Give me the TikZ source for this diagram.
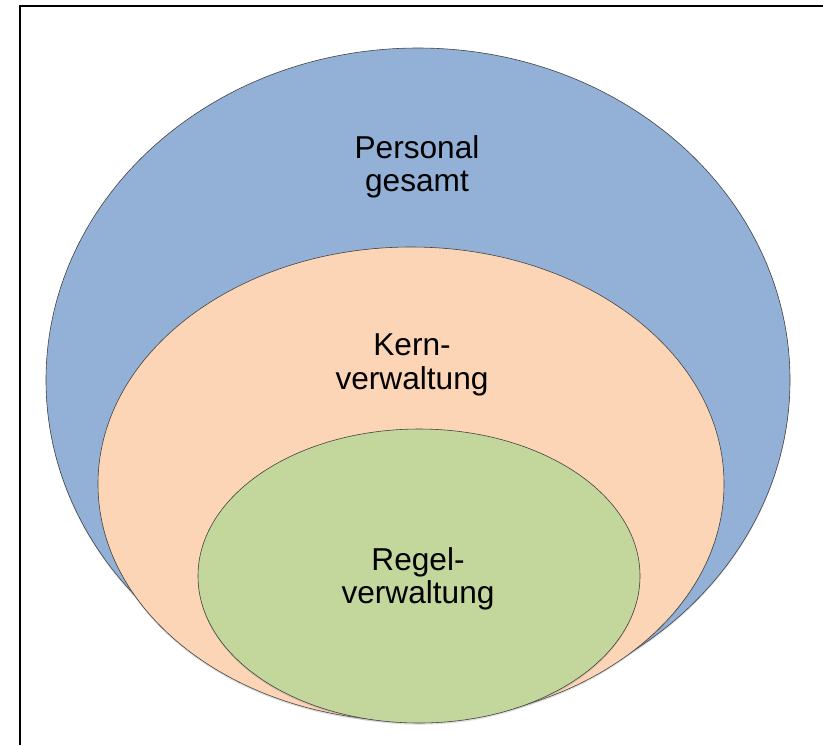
\documentclass[tikz,border=0pt]{standalone}
\usepackage{fontspec}
\setmainfont{Liberation Sans}
\usetikzlibrary{shadows}
\definecolor{outerblue}{RGB}{147,177,214}
\definecolor{midpeach}{RGB}{251,213,181}
\definecolor{innergreen}{RGB}{195,214,155}

\begin{document}
\begin{tikzpicture}[x=0.03cm,y=-0.03cm,
    ring/.style={draw=black!75,line width=0.5pt,
      drop shadow={opacity=0.25,shadow xshift=0pt,shadow yshift=-1.5pt}},
    lbl/.style={align=center,font=\fontsize{27}{28.5}\selectfont}]
          \useasboundingbox (0,0) rectangle (823,745);
          % frame (cut off right and bottom)
          \draw[line width=1.7pt] (20,745) -- (20,6) -- (823,6);
          
          % nested sets
          \filldraw[ring,fill=outerblue] (418,380) ellipse (372 and 332);
          \filldraw[ring,fill=midpeach] (411,484) ellipse (313 and 237);
          \filldraw[ring,fill=innergreen] (419,576) ellipse (221 and 147);
          
          \node[lbl] (gesamt) at (417,167) {Personal\\gesamt};
          \node[lbl] (kern) at (412,365) {Kern-\\verwaltung};
          \node[lbl] (regel) at (418,579) {Regel-\\verwaltung};
        \end{tikzpicture}
\end{document}
